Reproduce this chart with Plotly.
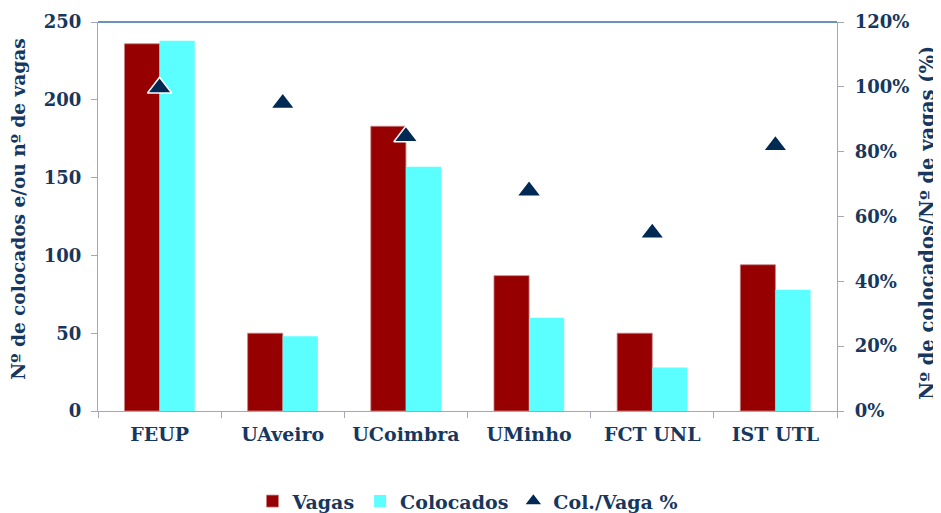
import plotly.graph_objects as go

categories = ["FEUP", "UAveiro", "UCoimbra", "UMinho", "FCT UNL", "IST UTL"]
vagas = [236, 50, 183, 87, 50, 94]
colocados = [238, 48, 157, 60, 28, 78]
ratio = [1.008, 0.96, 0.858, 0.69, 0.56, 0.83]

left_ticks = [0, 50, 100, 150, 200, 250]
right_ticks = [0, 0.2, 0.4, 0.6, 0.8, 1.0, 1.2]

TXT = "#17375E"
FONT = "DejaVu Serif"
GRID = "#A6A6B8"
FS = 19
# plotly's triangle-up is drawn above its anchor; centre it on the value
TRI_CENTRE = 0.011

fig = go.Figure()
fig.add_trace(go.Bar(x=categories, y=vagas, name="Vagas",
                     marker=dict(color="#960000", line=dict(color="#C98080", width=0.8))))
fig.add_trace(go.Bar(x=categories, y=colocados, name="Colocados",
                     marker=dict(color="#5BFFFF", line=dict(width=0))))
fig.add_trace(go.Scatter(x=categories, y=ratio, name="Col./Vaga %", yaxis="y3",
                         mode="markers",
                         marker=dict(symbol="triangle-up", size=21, color="#002953",
                                     line=dict(color="white", width=1.5))))
# empty trace so the visible right-hand percentage axis is drawn
fig.add_trace(go.Scatter(x=[], y=[], yaxis="y2", mode="markers", showlegend=False,
                         hoverinfo="skip"))

bold = dict(family=FONT, size=FS, color=TXT, weight="bold")
tickbold = dict(family=FONT, size=18, color=TXT, weight="bold")

fig.update_layout(
    width=941, height=513,
    margin=dict(l=90, r=112, t=14, b=110, autoexpand=False),
    paper_bgcolor="white", plot_bgcolor="white",
    barmode="group", bargap=0.43, bargroupgap=0,
    font=dict(family=FONT, color=TXT, size=FS),
    showlegend=True,
    legend=dict(orientation="h", x=0.5, xanchor="center", y=-0.232, yanchor="middle",
                font=bold, itemwidth=30, tracegroupgap=0),
    xaxis=dict(showline=True, linecolor=GRID, linewidth=1.2, ticks="outside",
               tickson="boundaries", ticklen=6, tickcolor=GRID, ticklabelstandoff=6,
               tickfont=bold, showgrid=False, automargin=False),
    yaxis=dict(range=[0, 250], tickvals=left_ticks, ticks="outside", ticklen=6,
               tickcolor=GRID, showline=True, linecolor=GRID, linewidth=1.2,
               showgrid=False, zeroline=False, automargin=False, ticklabelstandoff=6,
               tickfont=tickbold),
    yaxis2=dict(range=[0, 1.2], tickvals=right_ticks, tickformat=".0%", overlaying="y",
                side="right", ticks="outside", ticklen=6, tickcolor=GRID,
                showline=True, linecolor=GRID, linewidth=1.2, showgrid=False,
                zeroline=False, automargin=False, ticklabelstandoff=7,
                tickfont=tickbold),
    yaxis3=dict(range=[TRI_CENTRE, 1.2 + TRI_CENTRE], overlaying="y", visible=False,
                automargin=False),
    shapes=[dict(type="line", xref="paper", yref="paper", x0=0, x1=1, y0=1, y1=1,
                 line=dict(color="#3A6EA5", width=1.5))],
    annotations=[
        dict(text="Nº de colocados e/ou nº de vagas", xref="paper", yref="paper",
             x=-0.107, y=0.52, xanchor="center", yanchor="middle", textangle=-90,
             showarrow=False, font=dict(bold, size=18.5)),
        dict(text="Nº de colocados/Nº de vagas (%)", xref="paper", yref="paper",
             x=1.1225, y=0.483, xanchor="center", yanchor="middle", textangle=-90,
             showarrow=False, font=dict(bold, size=19.5)),
    ],
)

fig.write_html("out.html")
